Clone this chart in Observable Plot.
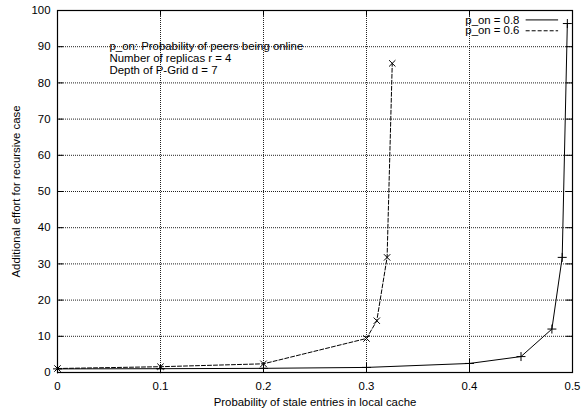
<!DOCTYPE html>
<html>
<head>
<meta charset="utf-8">
<script src="https://cdn.jsdelivr.net/npm/d3@7"></script>
<script src="https://cdn.jsdelivr.net/npm/@observablehq/plot@0.6"></script>
<style>
  html, body { margin: 0; padding: 0; background: #fff; }
</style>
</head>
<body>
<div id="chart"></div>
<script>
// Data
const x08 = [0, 0.1, 0.2, 0.3, 0.4, 0.45, 0.48, 0.49, 0.495];
const y08 = [1.0, 1.05, 1.15, 1.4, 2.5, 4.4, 12.0, 31.8, 96.4];
const x06 = [0, 0.1, 0.2, 0.3, 0.31, 0.32, 0.325];
const y06 = [1.1, 1.6, 2.4, 9.4, 14.3, 31.8, 85.4];
const seriesLabels = ["p_on = 0.8", "p_on = 0.6"];
const xTicks = [0, 0.1, 0.2, 0.3, 0.4, 0.5];
const yTicks = [0, 10, 20, 30, 40, 50, 60, 70, 80, 90, 100];
const notes = ["p_on: Probability of peers being online", "Number of replicas r = 4", "Depth of P-Grid d = 7"];
const xLabel = "Probability of stale entries in local cache";
const yLabel = "Additional effort for recursive case";

const s08 = x08.map((x, i) => ({x, y: y08[i]}));
const s06 = x06.map((x, i) => ({x, y: y06[i]}));

const xDom = [0, 0.5], yDom = [0, 100];
const tx = 0.006, ty = 1.6; // inner tick lengths in data units
const fs = "11.4px";
const noteRows = notes.map((t, i) => ({t, x: 0.0505, y: 90 - i * 3.3}));
const legendRows = seriesLabels.map((t, i) => ({t, y: 97.4 - i * 3.0}));

const chart = Plot.plot({
  width: 581,
  height: 411,
  marginLeft: 57,
  marginRight: 9,
  marginTop: 10,
  marginBottom: 39,
  style: {fontFamily: "'Liberation Sans', Arial, sans-serif", fontSize: fs, background: "#fff", color: "#000"},
  x: {domain: xDom},
  y: {domain: yDom},
  marks: [
    // dotted grid
    Plot.gridX(xTicks.slice(1, -1), {stroke: "#222", strokeOpacity: 1, strokeWidth: 1, strokeDasharray: "1,1"}),
    Plot.gridY(yTicks.slice(1, -1), {stroke: "#222", strokeOpacity: 1, strokeWidth: 1, strokeDasharray: "1,1"}),
    // inner ticks on all sides
    Plot.ruleY(yTicks, {y: d => d, x1: xDom[0], x2: xDom[0] + tx, stroke: "#000"}),
    Plot.ruleY(yTicks, {y: d => d, x1: xDom[1] - tx, x2: xDom[1], stroke: "#000"}),
    Plot.ruleX(xTicks, {x: d => d, y1: yDom[0], y2: yDom[0] + ty, stroke: "#000"}),
    Plot.ruleX(xTicks, {x: d => d, y1: yDom[1] - ty, y2: yDom[1], stroke: "#000"}),
    Plot.axisX(xTicks, {tickSize: 0, tickPadding: 9, tickFormat: d => String(d), label: xLabel, labelAnchor: "center", labelArrow: "none", labelOffset: 33, fontSize: fs}),
    Plot.axisY(yTicks, {tickSize: 0, tickPadding: 7, tickFormat: d => String(d), label: yLabel, labelAnchor: "center", labelArrow: "none", labelOffset: 46, fontSize: fs}),
    // series
    Plot.line(s08, {x: "x", y: "y", stroke: "#000", strokeWidth: 1}),
    Plot.dot(s08, {x: "x", y: "y", symbol: "plus", r: 3, stroke: "#000", strokeWidth: 1}),
    Plot.line(s06, {x: "x", y: "y", stroke: "#000", strokeWidth: 1, strokeDasharray: "4,2"}),
    Plot.dot(s06, {x: "x", y: "y", symbol: "times", r: 3, stroke: "#000", strokeWidth: 1}),
    // annotations
    Plot.text(noteRows, {x: "x", y: "y", text: "t", textAnchor: "start", fill: "#000", fontSize: fs}),
    // legend
    Plot.text(legendRows, {x: 0.4485, y: "y", text: "t", textAnchor: "end", fill: "#000", fontSize: fs}),
    Plot.ruleY([legendRows[0]], {y: "y", x1: 0.455, x2: 0.4865, stroke: "#000", strokeWidth: 1}),
    Plot.ruleY([legendRows[1]], {y: "y", x1: 0.455, x2: 0.4865, stroke: "#000", strokeWidth: 1, strokeDasharray: "4,2"}),
    Plot.frame({stroke: "#000", strokeWidth: 1.2})
  ]
});
document.getElementById("chart").appendChild(chart);
</script>
</body>
</html>
